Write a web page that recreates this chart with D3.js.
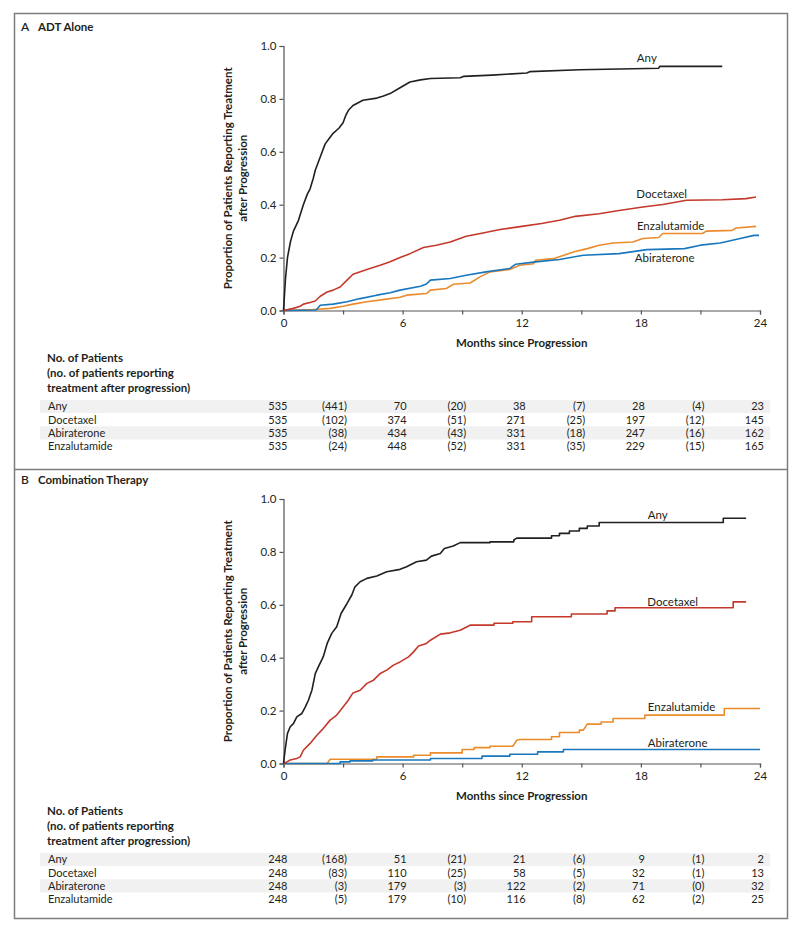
<!DOCTYPE html>
<html>
<head>
<meta charset="utf-8">
<script src="https://cdn.jsdelivr.net/npm/d3@7"></script>
<style>
  body { margin: 0; background: #fff; }
  svg text { font-family: Lato, "Open Sans", sans-serif; fill: #231f20; }
</style>
</head>
<body>
<div id="chart"></div>
<script>
const width = 800;
const height = 932;

const xTicks = [0, 6, 12, 18, 24];
const xMinorTicks = [3, 9, 15, 21];
const yTicks = [0, 0.2, 0.4, 0.6, 0.8, 1.0];
const tableMonths = [0, 3, 6, 9, 12, 15, 18, 21, 24];
const seriesNames = ["Any", "Docetaxel", "Abiraterone", "Enzalutamide"];
const colors = { Any: "#231f20", Docetaxel: "#c4392b", Abiraterone: "#1877bd", Enzalutamide: "#ec8b2b" };

// traced curves, [month, proportion]
// panel A: ADT alone
const anyA = [[0,0],[0.1,0.12],[0.2,0.2],[0.35,0.26],[0.5,0.3],[0.75,0.34],[1.0,0.4],[1.2,0.44],[1.34,0.46],[1.5,0.5],[1.6,0.53],[1.85,0.58],[2.1,0.63],[2.3,0.65],[2.5,0.67],[2.8,0.69],[3.0,0.71],[3.15,0.74],[3.27,0.757],[3.5,0.775],[4.0,0.795],[4.7,0.803],[5.0,0.81],[5.37,0.82],[5.87,0.842],[6.37,0.864],[6.9,0.872],[7.4,0.877],[8.9,0.88],[9.06,0.885],[10.5,0.89],[12.25,0.898],[12.4,0.903],[14.9,0.91],[17.6,0.914],[18.9,0.916],[18.95,0.923],[22.1,0.923]];
const docA = [[0,0],[0.5,0.008],[0.84,0.016],[1.0,0.024],[1.34,0.03],[1.6,0.036],[1.85,0.054],[2.2,0.07],[2.5,0.077],[2.85,0.089],[3.2,0.115],[3.5,0.137],[4.2,0.155],[4.87,0.171],[5.37,0.184],[5.87,0.2],[6.37,0.215],[7.05,0.238],[7.7,0.247],[8.4,0.259],[9.2,0.281],[10.05,0.293],[10.9,0.306],[12.0,0.318],[13.0,0.329],[13.9,0.341],[14.7,0.356],[15.9,0.366],[16.9,0.378],[18.1,0.391],[19.1,0.401],[20.3,0.417],[22.1,0.419],[23.3,0.423],[23.8,0.429]];
const abiA = [[0,0],[1.65,0.002],[1.85,0.02],[2.5,0.024],[3.2,0.033],[3.86,0.045],[4.7,0.058],[5.37,0.067],[5.87,0.077],[6.9,0.092],[7.2,0.1],[7.4,0.115],[8.4,0.121],[9.2,0.133],[10.2,0.146],[11.4,0.159],[11.7,0.175],[12.7,0.184],[13.9,0.193],[15.1,0.209],[16.9,0.215],[18.3,0.23],[20.2,0.234],[21.0,0.247],[22.0,0.255],[23.0,0.272],[23.7,0.284],[23.95,0.284]];
const enzA = [[0,0],[1.5,0.004],[2.35,0.008],[3.0,0.016],[3.5,0.024],[4.2,0.033],[5.0,0.041],[5.87,0.05],[6.2,0.058],[7.2,0.064],[7.4,0.077],[8.2,0.083],[8.55,0.099],[9.4,0.104],[9.9,0.127],[10.4,0.146],[11.4,0.155],[11.9,0.171],[12.6,0.177],[12.7,0.19],[13.6,0.196],[14.6,0.221],[15.3,0.234],[15.9,0.247],[16.6,0.255],[17.6,0.259],[18.1,0.272],[18.9,0.276],[19.1,0.291],[21.1,0.291],[21.3,0.3],[22.6,0.303],[22.8,0.312],[23.8,0.318]];

// panel B: combination therapy
const anyB = [[0,0],[0.08,0.05],[0.2,0.114],[0.34,0.139],[0.5,0.151],[0.67,0.176],[0.92,0.189],[1.1,0.214],[1.26,0.24],[1.43,0.277],[1.6,0.34],[1.76,0.366],[2.0,0.403],[2.2,0.454],[2.43,0.492],[2.68,0.517],[2.9,0.567],[3.2,0.605],[3.44,0.637],[3.6,0.668],[3.86,0.687],[4.2,0.7],[4.7,0.709],[5.2,0.725],[5.87,0.734],[6.2,0.744],[6.7,0.763],[7.2,0.769],[7.45,0.784],[7.9,0.794],[8.1,0.813],[8.55,0.822],[8.9,0.835],[10.4,0.835],[10.4,0.838],[11.6,0.838],[11.6,0.845],[11.75,0.852],[13.5,0.852],[13.5,0.861],[13.9,0.861],[13.9,0.87],[14.4,0.87],[14.4,0.879],[14.9,0.879],[14.9,0.889],[15.3,0.889],[15.3,0.898],[15.9,0.898],[15.9,0.911],[22.15,0.911],[22.15,0.927],[23.3,0.927]];
const docB = [[0,0],[0.17,0.006],[0.34,0.013],[0.67,0.019],[0.84,0.025],[1.0,0.05],[1.34,0.076],[1.68,0.107],[2.0,0.132],[2.35,0.164],[2.68,0.183],[3.0,0.214],[3.27,0.24],[3.5,0.267],[3.86,0.277],[4.2,0.303],[4.53,0.315],[4.87,0.34],[5.2,0.353],[5.54,0.372],[5.87,0.384],[6.3,0.403],[6.55,0.422],[6.8,0.444],[7.2,0.454],[7.4,0.466],[7.9,0.489],[8.4,0.494],[8.9,0.504],[9.4,0.523],[10.6,0.523],[10.6,0.53],[11.55,0.53],[11.55,0.536],[12.5,0.536],[12.5,0.555],[14.5,0.555],[14.5,0.565],[16.3,0.565],[16.3,0.577],[16.7,0.577],[16.7,0.589],[22.65,0.589],[22.65,0.611],[23.3,0.611]];
const abiB = [[0,0],[2.85,0],[2.85,0.006],[3.35,0.006],[3.35,0.01],[4.5,0.01],[4.5,0.013],[7.4,0.013],[7.4,0.019],[10.0,0.019],[10.0,0.028],[11.4,0.028],[11.4,0.035],[12.8,0.035],[12.8,0.044],[14.1,0.044],[14.1,0.053],[24.0,0.053]];
const enzB = [[0,0],[2.2,0],[2.35,0.016],[4.7,0.016],[4.7,0.025],[6.55,0.025],[6.55,0.031],[7.4,0.031],[7.4,0.04],[9.0,0.04],[9.0,0.053],[9.6,0.053],[9.6,0.06],[10.4,0.06],[10.4,0.065],[11.55,0.065],[11.75,0.088],[11.9,0.091],[13.5,0.091],[13.5,0.101],[13.9,0.101],[13.9,0.117],[14.9,0.117],[14.9,0.126],[15.1,0.126],[15.3,0.149],[16.0,0.149],[16.0,0.157],[16.6,0.157],[16.6,0.17],[18.2,0.17],[18.2,0.183],[22.2,0.183],[22.2,0.208],[24.0,0.208]];

// numbers at risk (events in brackets) at 0,3,...,24 months
const riskA = {
  Any:          ["535", "(441)", "70", "(20)", "38", "(7)", "28", "(4)", "23"],
  Docetaxel:    ["535", "(102)", "374", "(51)", "271", "(25)", "197", "(12)", "145"],
  Abiraterone:  ["535", "(38)", "434", "(43)", "331", "(18)", "247", "(16)", "162"],
  Enzalutamide: ["535", "(24)", "448", "(52)", "331", "(35)", "229", "(15)", "165"]
};
const riskB = {
  Any:          ["248", "(168)", "51", "(21)", "21", "(6)", "9", "(1)", "2"],
  Docetaxel:    ["248", "(83)", "110", "(25)", "58", "(5)", "32", "(1)", "13"],
  Abiraterone:  ["248", "(3)", "179", "(3)", "122", "(2)", "71", "(0)", "32"],
  Enzalutamide: ["248", "(5)", "179", "(10)", "116", "(8)", "62", "(2)", "25"]
};

const labelsA = [
  { name: "Any", m: 18.3, v: 0.953 },
  { name: "Docetaxel", m: 19.05, v: 0.44 },
  { name: "Enzalutamide", m: 19.5, v: 0.318 },
  { name: "Abiraterone", m: 19.2, v: 0.198 }
];
const labelsB = [
  { name: "Any", m: 18.85, v: 0.94 },
  { name: "Docetaxel", m: 19.6, v: 0.61 },
  { name: "Enzalutamide", m: 20.05, v: 0.213 },
  { name: "Abiraterone", m: 19.85, v: 0.077 }
];

const svg = d3.select("#chart").append("svg")
  .attr("width", width)
  .attr("height", height);

svg.append("rect").attr("width", width).attr("height", height).attr("fill", "#fff");

// frame
svg.append("rect")
  .attr("x", 14.5).attr("y", 13.5)
  .attr("width", 773).attr("height", 905)
  .attr("fill", "none").attr("stroke", "#7d7d7d").attr("stroke-width", 1.5);
svg.append("line")
  .attr("x1", 14).attr("x2", 788).attr("y1", 469.5).attr("y2", 469.5)
  .attr("stroke", "#7d7d7d").attr("stroke-width", 1.5);

const x = d3.scaleLinear().domain([0, 24]).range([283.5, 760]);

function drawPanel(offset, letter, title, series, risk, labels) {
  const g = svg.append("g").attr("transform", `translate(0, ${offset})`);
  const y = d3.scaleLinear().domain([0, 1]).range([310.5, 46]);

  const t = g.append("text").attr("x", 21).attr("y", 31).style("font-size", "12px");
  t.append("tspan").text(letter).style("font-weight", 600);
  t.append("tspan").attr("x", 38).text(title).style("font-weight", 700).style("font-size", "11.5px");

  // axes
  g.append("g").attr("transform", `translate(${x(0)},0)`)
    .call(d3.axisLeft(y).tickValues(yTicks).tickFormat(d3.format(".1f")).tickSize(4).tickPadding(3));
  g.append("g").attr("transform", `translate(0,${y(0)})`)
    .call(d3.axisBottom(x).tickValues(xTicks).tickSize(4).tickPadding(4));
  g.append("g").attr("transform", `translate(0,${y(0)})`)
    .call(d3.axisBottom(x).tickValues(xMinorTicks).tickSize(4).tickFormat(""))
    .select(".domain").remove();
  g.selectAll(".domain, .tick line").attr("stroke", "#555").attr("stroke-width", 1.2);
  g.selectAll(".tick text").style("font-size", "11.5px").style("font-family", "Lato, sans-serif").attr("fill", "#333");

  g.append("text")
    .attr("transform", `translate(232, ${(y(0) + y(1)) / 2}) rotate(-90)`)
    .attr("text-anchor", "middle")
    .style("font-size", "11.5px").style("font-weight", 700)
    .text("Proportion of Patients Reporting Treatment");
  g.append("text")
    .attr("transform", `translate(247, ${(y(0) + y(1)) / 2}) rotate(-90)`)
    .attr("text-anchor", "middle")
    .style("font-size", "11.5px").style("font-weight", 700)
    .text("after Progression");

  g.append("text")
    .attr("x", (x(0) + x(24)) / 2).attr("y", 347)
    .attr("text-anchor", "middle")
    .style("font-size", "11.5px").style("font-weight", 700)
    .text("Months since Progression");

  // curves
  const line = d3.line().x(d => x(d[0])).y(d => y(d[1]));
  seriesNames.slice().reverse().forEach(name => {
    g.append("path")
      .datum(series[name])
      .attr("d", line)
      .attr("fill", "none")
      .attr("stroke", colors[name])
      .attr("stroke-width", 1.6)
      .attr("stroke-linejoin", "round");
  });

  g.selectAll(".curve-label")
    .data(labels)
    .enter()
    .append("text")
    .attr("x", d => x(d.m))
    .attr("y", d => y(d.v))
    .attr("dy", "0.35em")
    .attr("text-anchor", "middle")
    .style("font-size", "11.5px")
    .text(d => d.name);

  // numbers-at-risk table
  ["No. of Patients", "(no. of patients reporting", "treatment after progression)"].forEach((s, i) => {
    g.append("text")
      .attr("x", 47).attr("y", 362 + i * 15)
      .style("font-size", "11.5px").style("font-weight", 700)
      .text(s);
  });

  seriesNames.forEach((name, i) => {
    const rowY = 406.5 + i * 13.2;
    if (i % 2 === 0) {
      g.append("rect")
        .attr("x", 40).attr("y", rowY - 6.6)
        .attr("width", 730).attr("height", 13.2)
        .attr("fill", "#f1f1f1");
    }
    g.append("text")
      .attr("x", 48).attr("y", rowY).attr("dy", "0.35em")
      .style("font-size", "11px").attr("fill", "#333")
      .text(name);
    g.selectAll(null)
      .data(risk[name])
      .enter()
      .append("text")
      .attr("x", (d, j) => x(tableMonths[j]) + 4)
      .attr("y", rowY).attr("dy", "0.35em")
      .attr("text-anchor", "end")
      .style("font-size", "11px").attr("fill", "#333")
      .text(d => d);
  });
}

drawPanel(0, "A", "ADT Alone",
  { Any: anyA, Docetaxel: docA, Abiraterone: abiA, Enzalutamide: enzA }, riskA, labelsA);
drawPanel(453, "B", "Combination Therapy",
  { Any: anyB, Docetaxel: docB, Abiraterone: abiB, Enzalutamide: enzB }, riskB, labelsB);
</script>
</body>
</html>
